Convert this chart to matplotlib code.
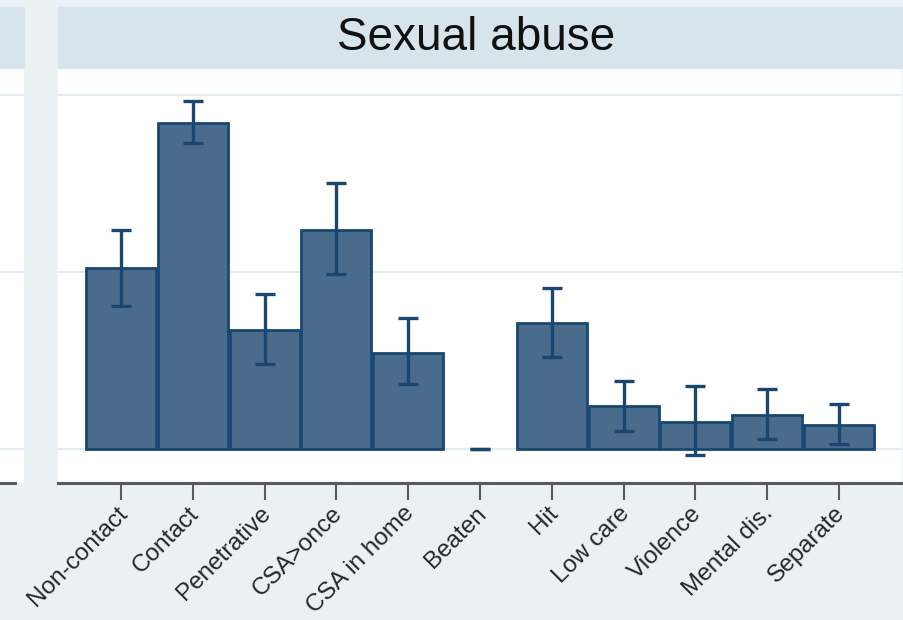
import matplotlib
matplotlib.use("Agg")
import matplotlib.pyplot as plt
from matplotlib.patches import Rectangle
from matplotlib.transforms import ScaledTranslation
import numpy as np

categories = ["Non-contact", "Contact", "Penetrative", "CSA>once", "CSA in home",
              "Beaten", "Hit", "Low care", "Violence", "Mental dis.", "Separate"]
estimate = [1.022, 1.844, 0.673, 1.240, 0.545, 0.0, 0.711, 0.244, 0.156, 0.192, 0.135]
ci_low = [0.811, 1.727, 0.483, 0.991, 0.367, 0.0, 0.519, 0.105, -0.032, 0.060, 0.030]
ci_high = [1.238, 1.968, 0.875, 1.505, 0.739, 0.0, 0.909, 0.387, 0.357, 0.339, 0.254]
panel_title = "Sexual abuse"

W, H = 904, 620
BG = "#EAF1F3"
BAND = "#D8E4EB"
GRID = "#E2EBEF"
AXIS = "#5A5A5A"
FILL = "#496B8C"
EDGE = "#1A476F"

plt.rcParams["font.family"] = ["Liberation Sans", "DejaVu Sans"]


def box(x0, y0, x1, y1):
    # pixel box (top-left origin) -> figure fraction
    return [x0 / W, 1 - y1 / H, (x1 - x0) / W, (y1 - y0) / H]


fig = plt.figure(figsize=(W / 100, H / 100), dpi=100, facecolor=BG)

ylim = (-0.190, 2.152)

# strip of the neighbouring panel on the left
left = fig.add_axes(box(-200, 68, 24, 483))
left.set_xlim(0, 1)
left.set_ylim(*ylim)
left.set_yticks([0, 1, 2])
left.set_xticks([])
left.yaxis.grid(True, color=GRID, lw=1.4)
left.tick_params(left=False, labelleft=False)
for s in ["top", "right", "left"]:
    left.spines[s].set_visible(False)
left.spines["bottom"].set_color(AXIS)
left.spines["bottom"].set_linewidth(2.2)
left.spines["bottom"].set_bounds(0, 215 / 224)

# main panel
ax = fig.add_axes(box(58, 68, 902, 483))
x = np.arange(len(categories))
est = np.array(estimate)
lo = np.array(ci_low)
hi = np.array(ci_high)
lws = [0 if v == 0 else 2.0 for v in est]

ax.bar(x, est, width=0.975, color=FILL, edgecolor=EDGE, linewidth=lws, zorder=2)
ax.errorbar(x, est, yerr=[est - lo, hi - est], fmt="none", ecolor=EDGE,
            elinewidth=2.4, capsize=7.5, capthick=2.4, zorder=3)

ax.set_xlim(-0.877, 10.877)
ax.set_ylim(*ylim)
ax.set_yticks([0, 1, 2])
ax.yaxis.grid(True, color=GRID, lw=1.4)
ax.set_axisbelow(True)
ax.tick_params(left=False, labelleft=False)
for s in ["top", "right", "left"]:
    ax.spines[s].set_visible(False)
ax.spines["bottom"].set_color(AXIS)
ax.spines["bottom"].set_linewidth(2.2)

ax.set_xticks(x)
ax.set_xticklabels(categories, rotation=45, ha="right", va="top",
                   rotation_mode="anchor", fontsize=17.5, color="#262626")
ax.tick_params(axis="x", length=12, width=1.5, color=AXIS, pad=2)
shift = ScaledTranslation(-5 / 100, 0, fig.dpi_scale_trans)
for lab in ax.get_xticklabels():
    lab.set_transform(lab.get_transform() + shift)

# title bands
fig.patches.append(Rectangle((58 / W, 1 - 68 / H), (902 - 58) / W, 61 / H,
                             transform=fig.transFigure, color=BAND, zorder=0))
fig.patches.append(Rectangle((0, 1 - 68 / H), 24 / W, 61 / H,
                             transform=fig.transFigure, color=BAND, zorder=0))
fig.text(476 / W, 1 - 50 / H, panel_title, ha="center", va="baseline",
         fontsize=33, color="#111111")

fig.savefig("out.png", dpi=100, facecolor=BG)
